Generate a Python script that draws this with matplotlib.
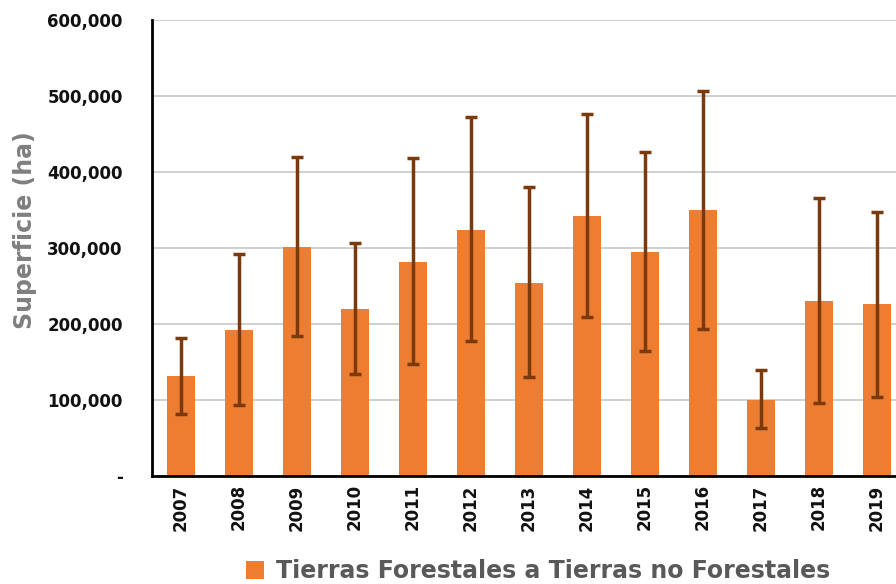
import matplotlib
matplotlib.use("Agg")
import matplotlib.pyplot as plt
import numpy as np
from matplotlib.ticker import FuncFormatter
from matplotlib.patches import Patch

years = ["2007", "2008", "2009", "2010", "2011", "2012", "2013",
         "2014", "2015", "2016", "2017", "2018", "2019"]
values = [132000, 192000, 301000, 220000, 282000, 324000, 254000,
          342000, 295000, 350000, 100000, 230000, 226000]
err_upper = [182000, 292000, 420000, 307000, 418000, 472000, 380000,
             476000, 426000, 506000, 139000, 366000, 348000]
err_lower = [81000, 93000, 184000, 134000, 147000, 178000, 130000,
             209000, 164000, 194000, 63000, 96000, 104000]
series_name = "Tierras Forestales a Tierras no Forestales"
y_label = "Superficie (ha)"

plt.rcParams['font.family'] = ['DejaVu Sans']

fig = plt.figure(figsize=(8.96, 5.84), dpi=100)
ax = fig.add_axes([152/896, 108/584, 754/896, 456/584])

x = np.arange(len(years))
vals = np.array(values)
yerr = np.array([vals - np.array(err_lower), np.array(err_upper) - vals])

ax.bar(x, vals, width=0.48, color="#ED7D31", zorder=2)
ax.errorbar(x, vals, yerr=yerr, fmt="none", ecolor="#7B3A0E", elinewidth=2.5,
            capsize=4.5, capthick=2.5, zorder=3)

ax.set_xlim(-0.5, len(years) - 0.5)
ax.set_ylim(0, 600000)
ax.set_yticks(np.arange(0, 600001, 100000))
ax.yaxis.set_major_formatter(FuncFormatter(lambda v, p: "-" if v == 0 else f"{int(v):,}"))
ax.set_xticks(x)
ax.set_xticklabels(years, rotation=90)
ax.tick_params(axis='both', length=0, labelsize=12, colors="#111111")
ax.tick_params(axis='y', pad=21)
ax.tick_params(axis='x', pad=6)
for lab in ax.get_xticklabels() + ax.get_yticklabels():
    lab.set_fontweight('semibold')

ax.grid(axis='y', color="#C8C8C8", linewidth=1.2, zorder=0)
ax.set_axisbelow(True)
for s in ["top", "right"]:
    ax.spines[s].set_visible(False)
ax.spines["left"].set_linewidth(2)
ax.spines["bottom"].set_linewidth(2)
ax.spines["left"].set_color("black")
ax.spines["bottom"].set_color("black")

fig.text(25/896, 1 - 230/584, y_label, rotation=90, ha='center', va='center',
         fontsize=17, fontweight='bold', color="#7F7F7F")

handle = Patch(facecolor="#ED7D31", edgecolor="none")
fig.legend([handle], [series_name], loc='center', bbox_to_anchor=(538/896, 1 - 571/584),
           frameon=False, prop={'size': 17, 'weight': 'bold'}, labelcolor="#595959",
           handlelength=0.8, handleheight=0.8, handletextpad=0.5)

fig.savefig("out.png", dpi=100)
